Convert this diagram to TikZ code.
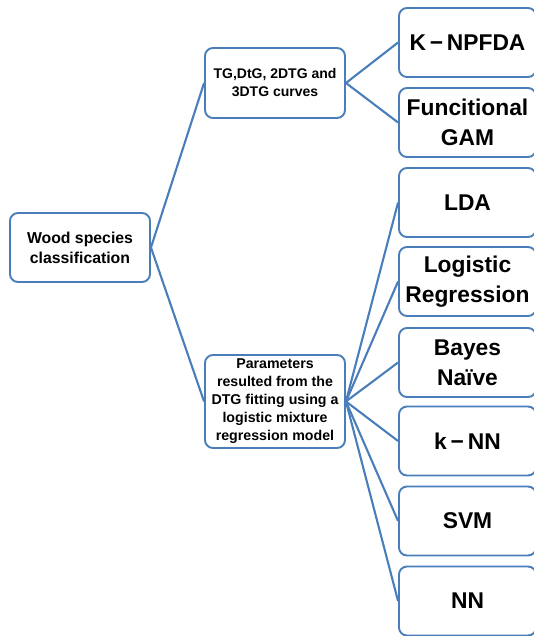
\documentclass[tikz,border=0pt]{standalone}
\usepackage{fontspec}
\setmainfont{Liberation Sans}
\begin{document}
\begin{tikzpicture}[x=1pt,y=-1pt,
  every node/.style={inner sep=2pt},
  box/.style={draw=lineblue, line width=1.9pt, rounded corners=8pt, fill=white,
    align=center, font=\bfseries},
  midbox/.style={box, minimum width=140pt, font=\fontsize{14.2}{18}\selectfont\bfseries},
  leafbox/.style={box, minimum width=137pt, minimum height=69pt, font=\fontsize{22.8}{30}\selectfont\bfseries},
  link/.style={draw=lineblue, line width=2.1pt}
]
\definecolor{lineblue}{HTML}{4A7EBB}
\useasboundingbox (0,0) rectangle (534,636);
\clip (0,0) rectangle (534,636);

\node[box, minimum width=140pt, minimum height=69pt, font=\fontsize{15.8}{20}\selectfont\bfseries] (root) at (80,247.5) {Wood species\\classification};

\node[midbox, minimum height=70pt, font=\fontsize{14}{18}\selectfont\bfseries] (tg) at (275,83) {TG,DtG, 2DTG and\\3DTG curves};
\node[midbox, minimum height=93pt] (par) at (275,401.5) {Parameters\\resulted from the\\DTG fitting using a\\logistic mixture\\regression model};

\node[leafbox] (knp) at (467.5,42.5) {K\,−\,NPFDA};
\node[leafbox] (gam) at (467.5,122.5) {Funcitional\\GAM};
\node[leafbox] (lda) at (467.5,202.5) {LDA};
\node[leafbox] (lr)  at (467.5,281.5) {Logistic\\Regression};
\node[leafbox] (bn)  at (467.5,362.5) {Bayes\\Naïve};
\node[leafbox] (knn) at (467.5,441) {k\,−\,NN};
\node[leafbox] (svm) at (467.5,521) {SVM};
\node[leafbox] (nn)  at (467.5,601) {NN};

\draw[link] (root.east) -- (tg.west);
\draw[link] (root.east) -- (par.west);
\draw[link] (tg.east) -- (knp.west);
\draw[link] (tg.east) -- (gam.west);
\foreach \t in {lda,lr,bn,knn,svm,nn}
  \draw[link] (par.east) -- (\t.west);
\end{tikzpicture}
\end{document}
